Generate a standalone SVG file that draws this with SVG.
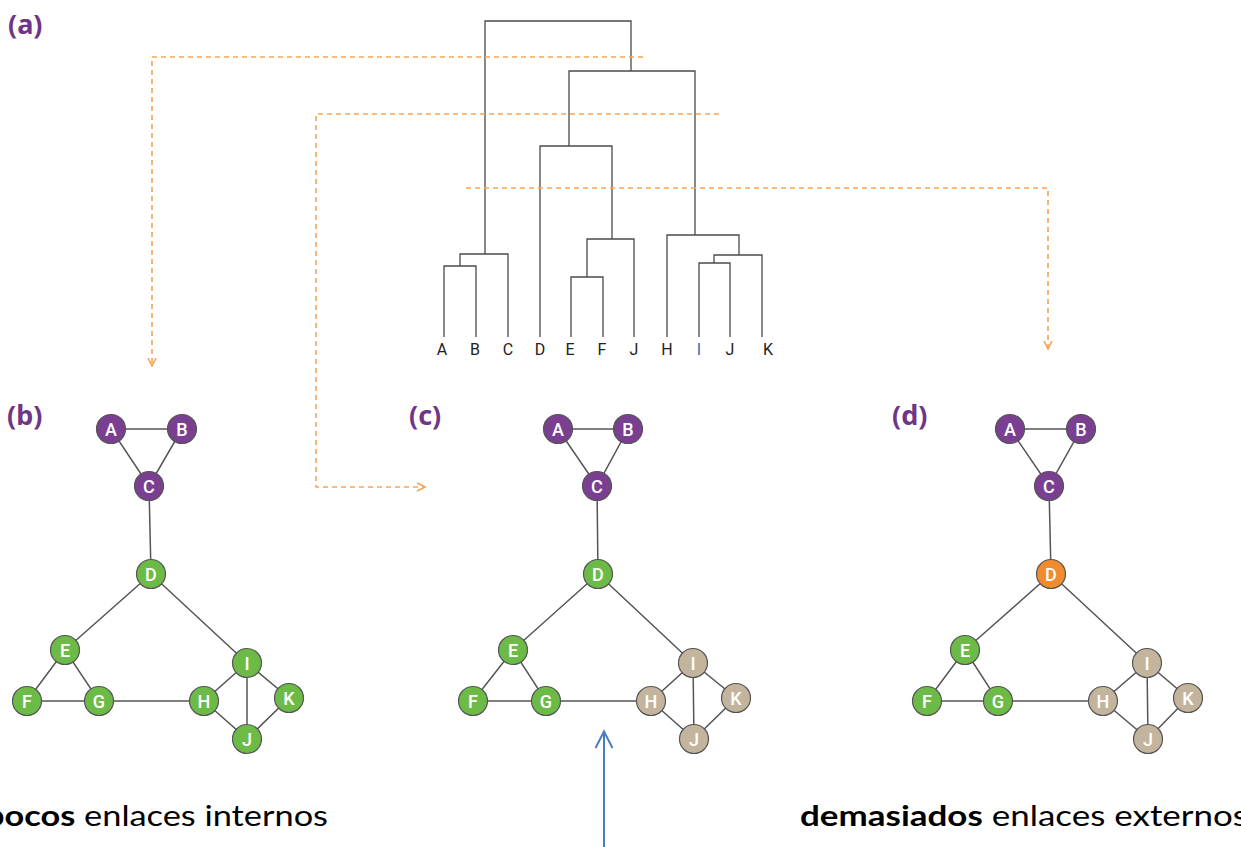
<svg xmlns="http://www.w3.org/2000/svg" width="1241" height="847" viewBox="0 0 1241 847">
<defs>
<style>
.dend{stroke:#4a4a4a;stroke-width:1.3;fill:none}
.leaf{font-family:Roboto,"Liberation Sans",sans-serif;font-size:16px;fill:#222;text-anchor:middle}
.cut{stroke:#f6a455;stroke-width:1.6;fill:none;stroke-dasharray:5,4}
.edge{stroke:#555;stroke-width:1.5;fill:none}
.n circle{stroke:#555;stroke-width:1.2}
.n text{font-family:Roboto,"Liberation Sans",sans-serif;font-size:18px;font-weight:500;fill:#fff;text-anchor:middle}
.p circle{fill:#7b3f91}
.g circle{fill:#6dbb47}
.t circle{fill:#c3b59d}
.o circle{fill:#f08c2f}
.panel{font-family:"Noto Sans","DejaVu Sans",sans-serif;font-size:27px;font-weight:bold;fill:#6f3586}
.cap{font-family:Lato,"Open Sans",sans-serif;font-size:29px;fill:#000}
</style>
<marker id="chev" viewBox="0 0 10 10" refX="9" refY="5" markerWidth="10" markerHeight="10" markerUnits="userSpaceOnUse" orient="auto">
<path d="M1,1 L9,5 L1,9" fill="none" stroke="#f6a455" stroke-width="1.6"/>
</marker>
</defs>
<rect width="1241" height="847" fill="#fff"/>

<g id="panel-labels">
<text class="panel" x="8" y="34">(a)</text>
<text class="panel" x="7" y="425">(b)</text>
<text class="panel" x="409" y="425">(c)</text>
<text class="panel" x="892" y="425">(d)</text>
</g>

<g id="dendrogram">
<path class="dend" d="M485,254 V21 H631 V71 M569,146 V71 H695 V235 M540,337 V146 H612 V239 M587,277 V239 H634 V337 M571,337 V277 H603 V337 M667,337 V235 H739 V255 M714,263 V255 H762 V337 M699,337 V263 H730 V337 M460,266 V254 H508 V337 M444,337 V266 H476 V337"/>
<text class="leaf" x="442" y="355">A</text>
<text class="leaf" x="475" y="355">B</text>
<text class="leaf" x="508" y="355">C</text>
<text class="leaf" x="540" y="355">D</text>
<text class="leaf" x="570" y="355">E</text>
<text class="leaf" x="602" y="355">F</text>
<text class="leaf" x="634" y="355">J</text>
<text class="leaf" x="667" y="355">H</text>
<text class="leaf" x="699" y="355" style="fill:#2f6fb0">I</text>
<text class="leaf" x="730" y="355">J</text>
<text class="leaf" x="768" y="355">K</text>
</g>

<g id="connectors">
<path class="cut" d="M643,57 H152 V366" marker-end="url(#chev)"/>
<path class="cut" d="M719,114 H316 V487 H425" marker-end="url(#chev)"/>
<path class="cut" d="M466,188 H1048 V349" marker-end="url(#chev)"/>
<path d="M604,847 V732 M595.5,748 L604,731.5 L612.5,748" stroke="#4a7ebf" stroke-width="2" fill="none"/>
</g>

<g id="graph-b">
<g class="edges">
<path class="edge" d="M111,429 L182,429 L149,486 Z M149,486 L151,574 L65,650 M151,574 L247,663 M65,650 L27,701 L99,701 Z M99,701 L204,701 L247,663 L289,698 L247,739 L204,701 M247,663 L247,739"/>
</g>
<g id="b-A" class="n p"><circle cx="111" cy="429" r="14.5"/><text x="111" y="435.5">A</text></g>
<g id="b-B" class="n p"><circle cx="182" cy="429" r="14.5"/><text x="182" y="435.5">B</text></g>
<g id="b-C" class="n p"><circle cx="149" cy="486" r="14.5"/><text x="149" y="492.5">C</text></g>
<g id="b-D" class="n g"><circle cx="151" cy="574" r="14.5"/><text x="151" y="580.5">D</text></g>
<g id="b-E" class="n g"><circle cx="65" cy="650" r="14.5"/><text x="65" y="656.5">E</text></g>
<g id="b-F" class="n g"><circle cx="27" cy="701" r="14.5"/><text x="27" y="707.5">F</text></g>
<g id="b-G" class="n g"><circle cx="99" cy="701" r="14.5"/><text x="99" y="707.5">G</text></g>
<g id="b-H" class="n g"><circle cx="204" cy="701" r="14.5"/><text x="204" y="707.5">H</text></g>
<g id="b-I" class="n g"><circle cx="247" cy="663" r="14.5"/><text x="247" y="669.5">I</text></g>
<g id="b-K" class="n g"><circle cx="289" cy="698" r="14.5"/><text x="289" y="704.5">K</text></g>
<g id="b-J" class="n g"><circle cx="247" cy="739" r="14.5"/><text x="247" y="745.5">J</text></g>
</g>

<g id="graph-c">
<g class="edges">
<path class="edge" d="M558,429 L628,429 L597,486 Z M597,486 L598,574 L513,650 M598,574 L693,663 M513,650 L473,701 L546,701 Z M546,701 L651,701 L693,663 L736,698 L694,739 L651,701 M693,663 L694,739"/>
</g>
<g id="c-A" class="n p"><circle cx="558" cy="429" r="14.5"/><text x="558" y="435.5">A</text></g>
<g id="c-B" class="n p"><circle cx="628" cy="429" r="14.5"/><text x="628" y="435.5">B</text></g>
<g id="c-C" class="n p"><circle cx="597" cy="486" r="14.5"/><text x="597" y="492.5">C</text></g>
<g id="c-D" class="n g"><circle cx="598" cy="574" r="14.5"/><text x="598" y="580.5">D</text></g>
<g id="c-E" class="n g"><circle cx="513" cy="650" r="14.5"/><text x="513" y="656.5">E</text></g>
<g id="c-F" class="n g"><circle cx="473" cy="701" r="14.5"/><text x="473" y="707.5">F</text></g>
<g id="c-G" class="n g"><circle cx="546" cy="701" r="14.5"/><text x="546" y="707.5">G</text></g>
<g id="c-H" class="n t"><circle cx="651" cy="701" r="14.5"/><text x="651" y="707.5">H</text></g>
<g id="c-I" class="n t"><circle cx="693" cy="663" r="14.5"/><text x="693" y="669.5">I</text></g>
<g id="c-K" class="n t"><circle cx="736" cy="698" r="14.5"/><text x="736" y="704.5">K</text></g>
<g id="c-J" class="n t"><circle cx="694" cy="739" r="14.5"/><text x="694" y="745.5">J</text></g>
</g>

<g id="graph-d">
<g class="edges">
<path class="edge" d="M1010,429 L1081,429 L1049,486 Z M1049,486 L1051,574 L965,650 M1051,574 L1147,663 M965,650 L927,701 L998,701 Z M998,701 L1103,701 L1147,663 L1188,698 L1148,739 L1103,701 M1147,663 L1148,739"/>
</g>
<g id="d-A" class="n p"><circle cx="1010" cy="429" r="14.5"/><text x="1010" y="435.5">A</text></g>
<g id="d-B" class="n p"><circle cx="1081" cy="429" r="14.5"/><text x="1081" y="435.5">B</text></g>
<g id="d-C" class="n p"><circle cx="1049" cy="486" r="14.5"/><text x="1049" y="492.5">C</text></g>
<g id="d-D" class="n o"><circle cx="1051" cy="574" r="14.5"/><text x="1051" y="580.5">D</text></g>
<g id="d-E" class="n g"><circle cx="965" cy="650" r="14.5"/><text x="965" y="656.5">E</text></g>
<g id="d-F" class="n g"><circle cx="927" cy="701" r="14.5"/><text x="927" y="707.5">F</text></g>
<g id="d-G" class="n g"><circle cx="998" cy="701" r="14.5"/><text x="998" y="707.5">G</text></g>
<g id="d-H" class="n t"><circle cx="1103" cy="701" r="14.5"/><text x="1103" y="707.5">H</text></g>
<g id="d-I" class="n t"><circle cx="1147" cy="663" r="14.5"/><text x="1147" y="669.5">I</text></g>
<g id="d-K" class="n t"><circle cx="1188" cy="698" r="14.5"/><text x="1188" y="704.5">K</text></g>
<g id="d-J" class="n t"><circle cx="1148" cy="739" r="14.5"/><text x="1148" y="745.5">J</text></g>
</g>

<g id="captions">
<text class="cap" x="-15" y="826" textLength="343" lengthAdjust="spacingAndGlyphs"><tspan font-weight="bold">pocos</tspan> enlaces internos</text>
<text class="cap" x="800" y="826" textLength="448" lengthAdjust="spacingAndGlyphs"><tspan font-weight="bold">demasiados</tspan> enlaces externos</text>
</g>
</svg>
